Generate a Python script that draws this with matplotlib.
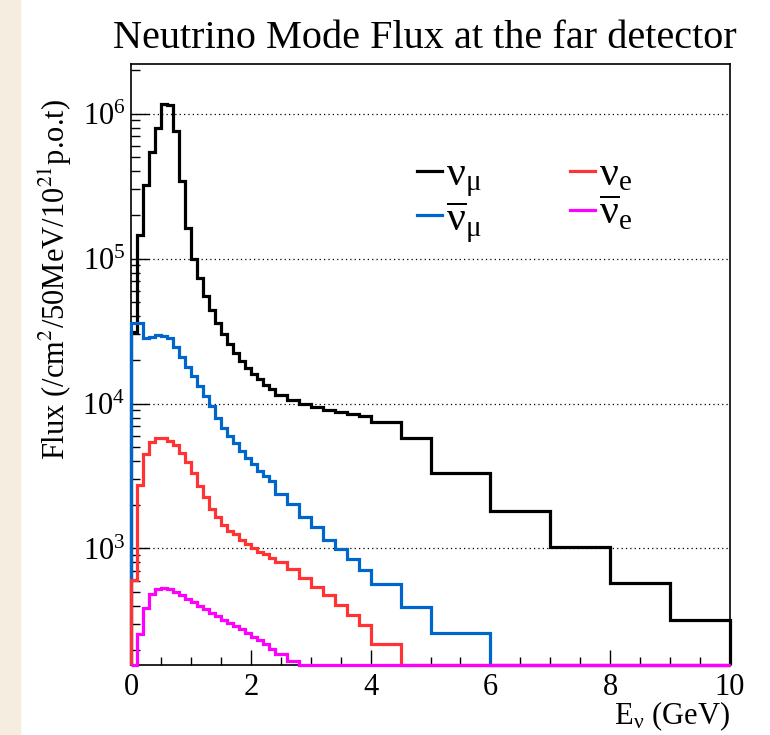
import matplotlib
matplotlib.use('Agg')
import matplotlib.pyplot as plt
from matplotlib.lines import Line2D
from matplotlib.patches import Rectangle
from matplotlib.ticker import FixedLocator, LogLocator, LogFormatterMathtext, NullFormatter
import numpy as np

plt.rcParams['font.family'] = ['Liberation Serif', 'DejaVu Serif']
plt.rcParams['mathtext.fontset'] = 'stix'

# bin edges (GeV): 0.1 GeV up to 2.4, 0.2 GeV up to 4, then coarse
bin_edges = [0.0, 0.1, 0.2, 0.3, 0.4, 0.5, 0.6, 0.7, 0.8, 0.9, 1.0,
             1.1, 1.2, 1.3, 1.4, 1.5, 1.6, 1.7, 1.8, 1.9, 2.0,
             2.1, 2.2, 2.3, 2.4, 2.6, 2.8, 3.0, 3.2, 3.4, 3.6, 3.8, 4.0,
             4.5, 5.0, 6.0, 7.0, 8.0, 9.0, 10.0]

flux_numu = [3.1e4, 1.45e5, 3.2e5, 5.4e5, 8.0e5, 1.17e6, 1.15e6, 7.55e5, 3.45e5, 1.63e5,
             1.0e5, 7.3e4, 5.5e4, 4.4e4, 3.6e4, 3.03e4, 2.58e4, 2.24e4, 1.98e4, 1.76e4,
             1.61e4, 1.47e4, 1.35e4, 1.25e4, 1.14e4, 1.05e4, 1.0e4, 9.4e3, 9.0e3, 8.7e3,
             8.5e3, 8.2e3, 7.4e3, 5.74e3, 3.33e3, 1.81e3, 1.02e3, 574, 319]

flux_numubar = [3.6e4, 3.6e4, 2.84e4, 2.87e4, 2.95e4, 2.93e4, 2.84e4, 2.46e4, 2.1e4, 1.8e4,
                1.54e4, 1.32e4, 1.13e4, 9.6e3, 7.9e3, 6.8e3, 6.0e3, 5.3e3, 4.7e3, 4.2e3,
                3.8e3, 3.45e3, 3.15e3, 2.91e3, 2.36e3, 2.04e3, 1.65e3, 1.40e3, 1.135e3, 985,
                840, 708, 565, 394, 259, 0, 0, 0, 0]

flux_nue = [605, 2.73e3, 4.45e3, 5.45e3, 5.75e3, 5.8e3, 5.55e3, 5.2e3, 4.57e3, 3.94e3,
            3.33e3, 2.69e3, 2.26e3, 1.88e3, 1.64e3, 1.46e3, 1.33e3, 1.25e3, 1.15e3, 1.07e3,
            1.0e3, 952, 913, 860, 805, 716, 629, 545, 474, 405,
            345, 296, 220, 0, 0, 0, 0, 0, 0]

flux_nuebar = [0, 255, 386, 482, 522, 530, 522, 500, 478, 450,
               426, 400, 380, 360, 341, 323, 306, 291, 277, 260,
               245, 232, 218, 204, 186, 167, 0, 0, 0, 0,
               0, 0, 0, 0, 0, 0, 0, 0, 0]

labels = [r'$\mathregular{ν}_{\mathregular{μ}}$', r'$\overline{\mathregular{ν}}_{\mathregular{μ}}$',
          r'$\mathregular{ν}_{\mathregular{e}}$', r'$\overline{\mathregular{ν}}_{\mathregular{e}}$']
colors = ['black', '#0066cc', '#ff3333', '#ff00ff']

ymin, ymax = 157, 2.2e6

fig = plt.figure(figsize=(7.7, 7.35), dpi=100)
fig.patches.append(Rectangle((0, 0), 20 / 770, 1, transform=fig.transFigure,
                             color='#f5eddf', zorder=0))
ax = fig.add_axes([131 / 770, 1 - 665 / 735, 599 / 770, 601 / 735])

series = [flux_numu, flux_numubar, flux_nue, flux_nuebar]
handles = []
for vals, col, lab in zip(series, colors, labels):
    v = np.clip(np.array(vals, dtype=float), ymin, None)
    ax.stairs(v, bin_edges, baseline=ymin, color=col, lw=2.3, clip_on=False, zorder=3)
    handles.append(Line2D([], [], color=col, lw=2.3))

ax.set_xlim(0, 10)
ax.set_yscale('log')
ax.set_ylim(ymin, ymax)

for d in [1e3, 1e4, 1e5, 1e6]:
    ax.axhline(d, color='black', lw=0.9, ls=(0, (1, 2.5)), zorder=1)

ax.xaxis.set_major_locator(FixedLocator([0, 2, 4, 6, 8, 10]))
ax.xaxis.set_minor_locator(FixedLocator(np.arange(0, 10.01, 0.5)))
ax.yaxis.set_major_locator(LogLocator(base=10))
ax.yaxis.set_major_formatter(LogFormatterMathtext())
ax.yaxis.set_minor_locator(LogLocator(base=10, subs=np.arange(2, 10)))
ax.yaxis.set_minor_formatter(NullFormatter())

ax.tick_params(axis='both', which='both', direction='in', top=False, right=False,
               labelsize=22, width=1.0)
ax.tick_params(axis='x', which='major', length=11, pad=6)
ax.tick_params(axis='x', which='minor', length=5.5)
ax.tick_params(axis='y', which='major', length=13, pad=4)
ax.tick_params(axis='y', which='minor', length=6.5)
for sp in ax.spines.values():
    sp.set_linewidth(1.2)

ax.legend(handles, labels, ncol=2, loc='upper left', bbox_to_anchor=(0.45, 0.875),
          frameon=False, fontsize=30, handlelength=0.6, handletextpad=0.1,
          columnspacing=2.1, labelspacing=0.0, borderaxespad=0)

fig.text(425 / 770, 1 - 38 / 735, 'Neutrino Mode Flux at the far detector',
         ha='center', va='center', fontsize=29)
fig.text(55 / 770, 1 - 280 / 735, r'Flux (/cm$^{2}$/50MeV/10$^{21}$p.o.t)',
         ha='center', va='center', rotation=90, fontsize=22)
fig.text(730 / 770, 1 - 716 / 735, r'E$_{\mathregular{ν}}$ (GeV)', ha='right', va='center',
         fontsize=22)

fig.savefig('out.png', dpi=100)
